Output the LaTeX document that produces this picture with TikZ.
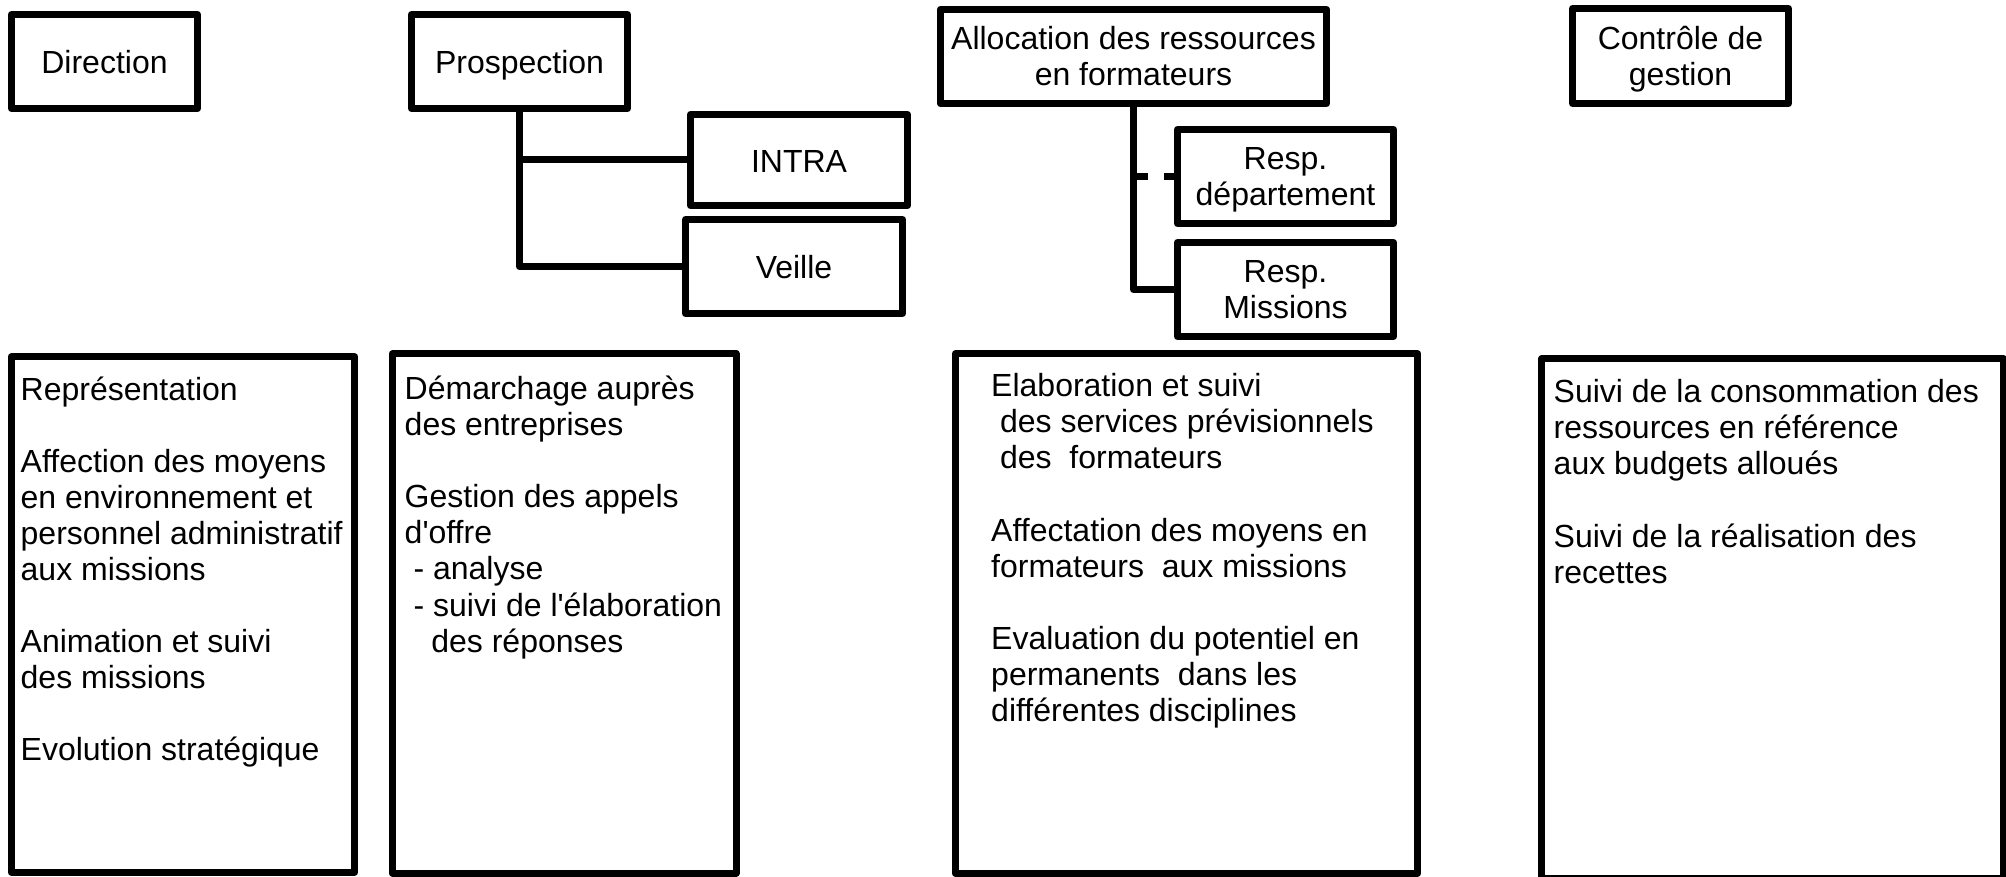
\documentclass[tikz,border=0pt]{standalone}
\usepackage{fontspec}
\newfontfamily\orgfont{Liberation Sans}
\usetikzlibrary{positioning}
\newcommand{\orgsize}{\orgfont\fontsize{9.1pt}{10.25pt}\selectfont}
\newcommand{\gap}{\\[10.25pt]}
\tikzset{
	unit/.style={draw, line width=0.07cm, line join=round, align=center, inner sep=0pt, font=\orgsize},
	oneline/.style={text height=0.26cm, text depth=0.012cm},
	tasks/.style={draw, line width=0.07cm, line join=round, inner sep=0pt},
	tasktext/.style={anchor=north west, align=left, inner sep=0pt, font=\orgsize},
	link/.style={line width=0.07cm, line join=round},
	dotted link/.style={link, dash pattern=on 0.14cm off 0.165cm}
}
\begin{document}
\begin{tikzpicture}[x=0.01cm, y=-0.01cm]
					\useasboundingbox (0,0) rectangle (2006,877);
					
					\node[unit, oneline, minimum width=1.86cm, minimum height=0.94cm] (direction) at (104.5,61.5) {Direction};
					\node[unit, oneline, minimum width=2.16cm, minimum height=0.94cm] (prosp) at (519.5,61.5) {Prospection};
					\node[unit, minimum width=3.86cm, minimum height=0.94cm] (alloc) at (1133.5,56.5) {Allocation des ressources\\en formateurs};
					\node[unit, text depth=0pt, minimum width=2.16cm, minimum height=0.95cm] (ctrl) at (1680.5,56) {Contrôle de\\gestion};
					
					\node[unit, oneline, minimum width=2.17cm, minimum height=0.91cm] (intra) at (799,160) {INTRA};
					\node[unit, oneline, minimum width=2.17cm, minimum height=0.94cm] (veille) at (794,266.5) {Veille};
					\node[unit, text depth=0pt, minimum width=2.16cm, minimum height=0.94cm] (dept) at (1285.5,176.5) {Resp.\\département};
					\node[unit, minimum width=2.16cm, minimum height=0.94cm] (missions) at (1285.5,289.5) {Resp.\\Missions};
					
					\draw[link] (prosp.south) |- (intra.west);
					\draw[link] (prosp.south) |- (veille.west);
					\draw[link] (alloc.south) |- (missions.west);
					\draw[dotted link] (alloc.south |- dept.west) -- (dept.west);
					
					\node[tasks, minimum width=3.43cm, minimum height=5.15cm] (dirtasks) at (183,614.5) {};
					\node[tasks, minimum width=3.435cm, minimum height=5.19cm] (prosptasks) at (564.25,613.5) {};
					\node[tasks, minimum width=4.62cm, minimum height=5.19cm] (alloctasks) at (1186.5,613.5) {};
					\node[tasks, minimum width=4.615cm, minimum height=5.19cm] (ctrltasks) at (1772.75,618.5) {};
					
					\node[tasktext] (dirtext) at (20,376) {Représentation\gap
						Affection des moyens\\en environnement et\\personnel administratif\\aux missions\gap
						Animation et suivi\\des missions\gap
						Evolution stratégique};
					\node[tasktext] (prosptext) at (404,375.5) {Démarchage auprès\\des entreprises\gap
						Gestion des appels\\d'offre\\~- analyse\\~- suivi de l'élaboration\\~~~des réponses};
					\node[tasktext] (alloctext) at (990.5,373) {Elaboration et suivi\\~des services prévisionnels\\~des\ \ formateurs\gap
						Affectation des moyens en\\formateurs\ \ aux missions\gap
						Evaluation du potentiel en\\permanents\ \ dans les\\différentes disciplines};
					\node[tasktext] (ctrltext) at (1553,379) {Suivi de la consommation des\\ressources en référence\\aux budgets alloués\gap
						Suivi de la réalisation des\\recettes};
					
\end{tikzpicture}
\end{document}
